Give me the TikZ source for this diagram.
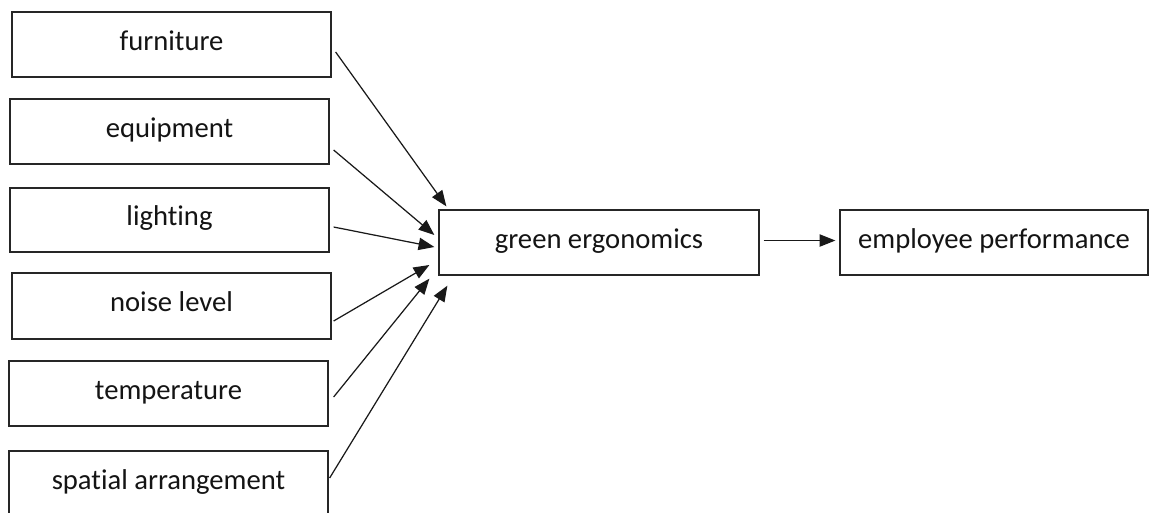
\documentclass[tikz,border=0pt]{standalone}
\usepackage{fontspec}
\setmainfont[Ligatures=NoCommon]{Carlito}
\usetikzlibrary{arrows.meta}
\begin{document}
\begin{tikzpicture}[x=0.02cm,y=-0.02cm,
  box/.style={draw=black!85,line width=0.75pt,rectangle,inner sep=0pt,
    minimum width=6.38cm,minimum height=1.3cm,text height=12pt,text depth=5.2pt,
    font=\fontsize{16.3}{19}\selectfont,text=black!92},
  conn/.style={line width=0.7pt,draw=black!90,-{Triangle[length=9pt,width=7pt]}}]
\clip (0,0) rectangle (1152,512);
\fill[white] (0,0) rectangle (1152,512);
\node[box] (furn) at (171.5,44.5) {furniture};
\node[box] (equip) at (169.5,131.5) {equipment};
\node[box,minimum height=1.28cm] (light) at (169.5,220) {lighting};
\node[box,minimum height=1.32cm] (noise) at (171.5,306) {noise level};
\node[box] (temp) at (168.5,393.5) {temperature};
\node[box] (spat) at (168.5,483.5) {spatial arrangement};
\node[box,minimum width=6.4cm] (green) at (599,242.5) {green ergonomics};
\node[box,minimum width=6.16cm] (emp) at (994,242.5) {employee performance};
\draw[conn] ([shift={(4,7.5)}]furn.east) -- ([shift={(8,-3)}]green.north west);
\draw[conn] ([shift={(4,18.5)}]equip.east) -- ([shift={(-4,-7.5)}]green.west);
\draw[conn] ([shift={(4,7)}]light.east) -- ([shift={(-4,4.5)}]green.west);
\draw[conn] ([shift={(2,15)}]noise.east) -- ([shift={(-9,22.5)}]green.west);
\draw[conn] ([shift={(5,3.5)}]temp.east) -- ([shift={(-9,3)}]green.south west);
\draw[conn] ([shift={(1,-5.5)}]spat.east) -- ([shift={(9,10)}]green.south west);
\draw[conn] ([shift={(4,-2)}]green.east) -- ([shift={(-4,-2)}]emp.west);
\end{tikzpicture}
\end{document}
